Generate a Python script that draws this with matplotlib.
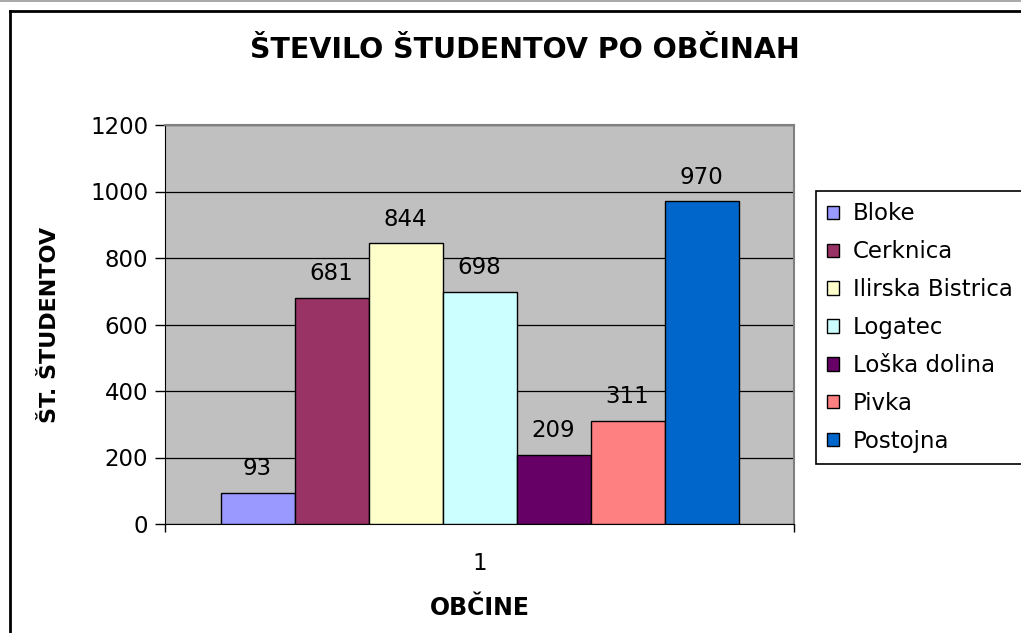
import matplotlib
matplotlib.use("Agg")
import matplotlib.pyplot as plt
from matplotlib.lines import Line2D

plt.rcParams['font.family'] = ['DejaVu Sans']

municipalities = ["Bloke", "Cerknica", "Ilirska Bistrica", "Logatec", "Loška dolina", "Pivka", "Postojna"]
students = [93, 681, 844, 698, 209, 311, 970]
colors = ["#9999FF", "#993366", "#FFFFCC", "#CCFFFF", "#660066", "#FF8080", "#0066CC"]
yticks = [0, 200, 400, 600, 800, 1000, 1200]
category_labels = ["1"]

W, H = 1021, 633
FS = 16.5
fig = plt.figure(figsize=(W / 100, H / 100), dpi=100)
fig.patch.set_facecolor("white")

# outer chart border (top and left visible)
fig.add_artist(Line2D([0, 1], [1 - 0.5 / H, 1 - 0.5 / H], color="#999999", lw=1.2, transform=fig.transFigure))
fig.add_artist(Line2D([10 / W, 1.0], [1 - 10.5 / H, 1 - 10.5 / H], color="black", lw=2, transform=fig.transFigure))
fig.add_artist(Line2D([10 / W, 10 / W], [0, 1 - 10.5 / H], color="black", lw=2, transform=fig.transFigure))

ax = fig.add_axes([165 / W, 1 - 524 / H, 629 / W, 399 / H])
ax.set_facecolor("#C0C0C0")

n = len(students)
bw = 74 / 629
offsets = [(i - (n - 1) / 2) * bw for i in range(n)]
for i, (name, val, c) in enumerate(zip(municipalities, students, colors)):
    ax.bar(offsets[i], val, width=bw, color=c, edgecolor="black", linewidth=1.0, label=name, zorder=3)
    ax.annotate(str(val), (offsets[i], val), xytext=(0, 17.5), textcoords="offset points",
                ha="center", va="center", fontsize=FS, zorder=4)

ax.set_xlim(-0.5, 0.5)
ax.set_ylim(0, 1200)
ax.set_yticks(yticks)
ax.set_yticklabels([str(v) for v in yticks], fontsize=FS)
ax.yaxis.grid(True, color="black", linewidth=0.9, zorder=1)
ax.set_axisbelow(True)
ax.tick_params(axis="y", direction="out", length=7, width=1, pad=5)

ax.set_xticks([-0.5, 0.5])
ax.set_xticklabels(["", ""])
ax.tick_params(axis="x", direction="out", length=6, width=1)
ax.text(0, -0.1, category_labels[0], transform=ax.get_xaxis_transform(), ha="center", va="center", fontsize=FS)

for s in ["top", "right"]:
    ax.spines[s].set_color("#808080")
    ax.spines[s].set_linewidth(1.5)
ax.spines["left"].set_color("black")
ax.spines["bottom"].set_color("black")

ax.set_xlabel("OBČINE", fontsize=17, fontweight="bold", labelpad=42)
ax.set_ylabel("ŠT. ŠTUDENTOV", fontsize=16, fontweight="bold", labelpad=22)

fig.text(525 / W, 1 - 50 / H, "ŠTEVILO ŠTUDENTOV PO OBČINAH", ha="center", va="center",
         fontsize=20.5, fontweight="bold")

leg = ax.legend(loc="upper left", bbox_to_anchor=(816 / W, 1 - 191 / H), bbox_transform=fig.transFigure,
                fontsize=FS, frameon=True, fancybox=False, edgecolor="black", framealpha=1,
                handlelength=0.52, handleheight=0.52, handletextpad=0.6, labelspacing=0.65,
                borderpad=0.5, borderaxespad=0)
leg.get_frame().set_linewidth(1.2)

fig.savefig("out.png", dpi=100)
